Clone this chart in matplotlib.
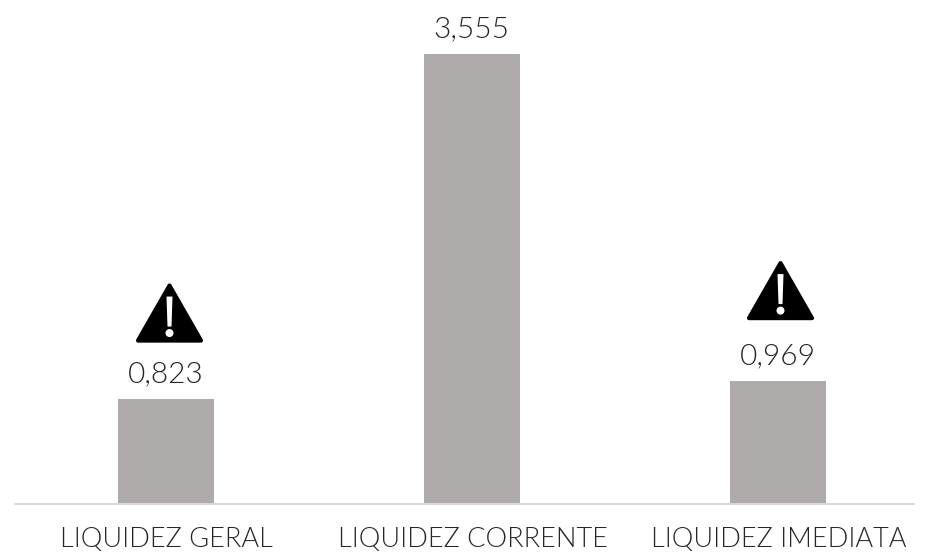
import matplotlib
matplotlib.use("Agg")
import matplotlib.pyplot as plt
from matplotlib.patches import Polygon

categories = ["LIQUIDEZ GERAL", "LIQUIDEZ CORRENTE", "LIQUIDEZ IMEDIATA"]
values = [0.823, 3.555, 0.969]
value_labels = ["0,823", "3,555", "0,969"]
warned = [True, False, True]

W, H = 926, 552
fig = plt.figure(figsize=(W/100, H/100), dpi=100)
ax = fig.add_axes([0, 0, 1, 1])
ax.set_axis_off()
base_y = 503
scale = (503 - 54) / 3.555
ax.set_xlim(0, W)
ax.set_ylim(H, 0)
centers = [166, 472, 778]
icon_shift = [(3.5, 56.5), None, (2.5, 60.5)]
ax.plot([14, 915], [base_y + 0.5, base_y + 0.5], color="#d9d9d9", lw=1.5, zorder=1, solid_capstyle="butt")
for c, v, lab, name, w, s in zip(centers, values, value_labels, categories, warned, icon_shift):
    top = base_y - v * scale
    ax.bar(c, v * scale, bottom=top, width=96, color="#afabab", zorder=2)
    ax.text(c - 0.5, top - 11.5, lab, ha="center", va="bottom", fontsize=21.5, color="#262626",
            family="Lato", fontweight=300)
    ax.text(c + 0.5, 539.5, name, ha="center", va="center", fontsize=19.5, color="#262626",
            family="Lato", fontweight=300)
    if w:
        tc = c + s[0]
        by = top - s[1]
        ax.add_patch(Polygon([(tc-31.5, by-2), (tc+31.5, by-2), (tc, by-57)], closed=True,
                             fc="black", ec="black", lw=3, joinstyle="round", zorder=3))
        ax.add_patch(Polygon([(tc-3, by-46), (tc+3, by-46), (tc+2, by-16), (tc-2, by-16)],
                             closed=True, fc="white", ec="none", zorder=4))
        ax.add_patch(plt.Circle((tc, by-9.5), 4, fc="white", ec="none", zorder=4))
fig.savefig("out.png", dpi=100)
